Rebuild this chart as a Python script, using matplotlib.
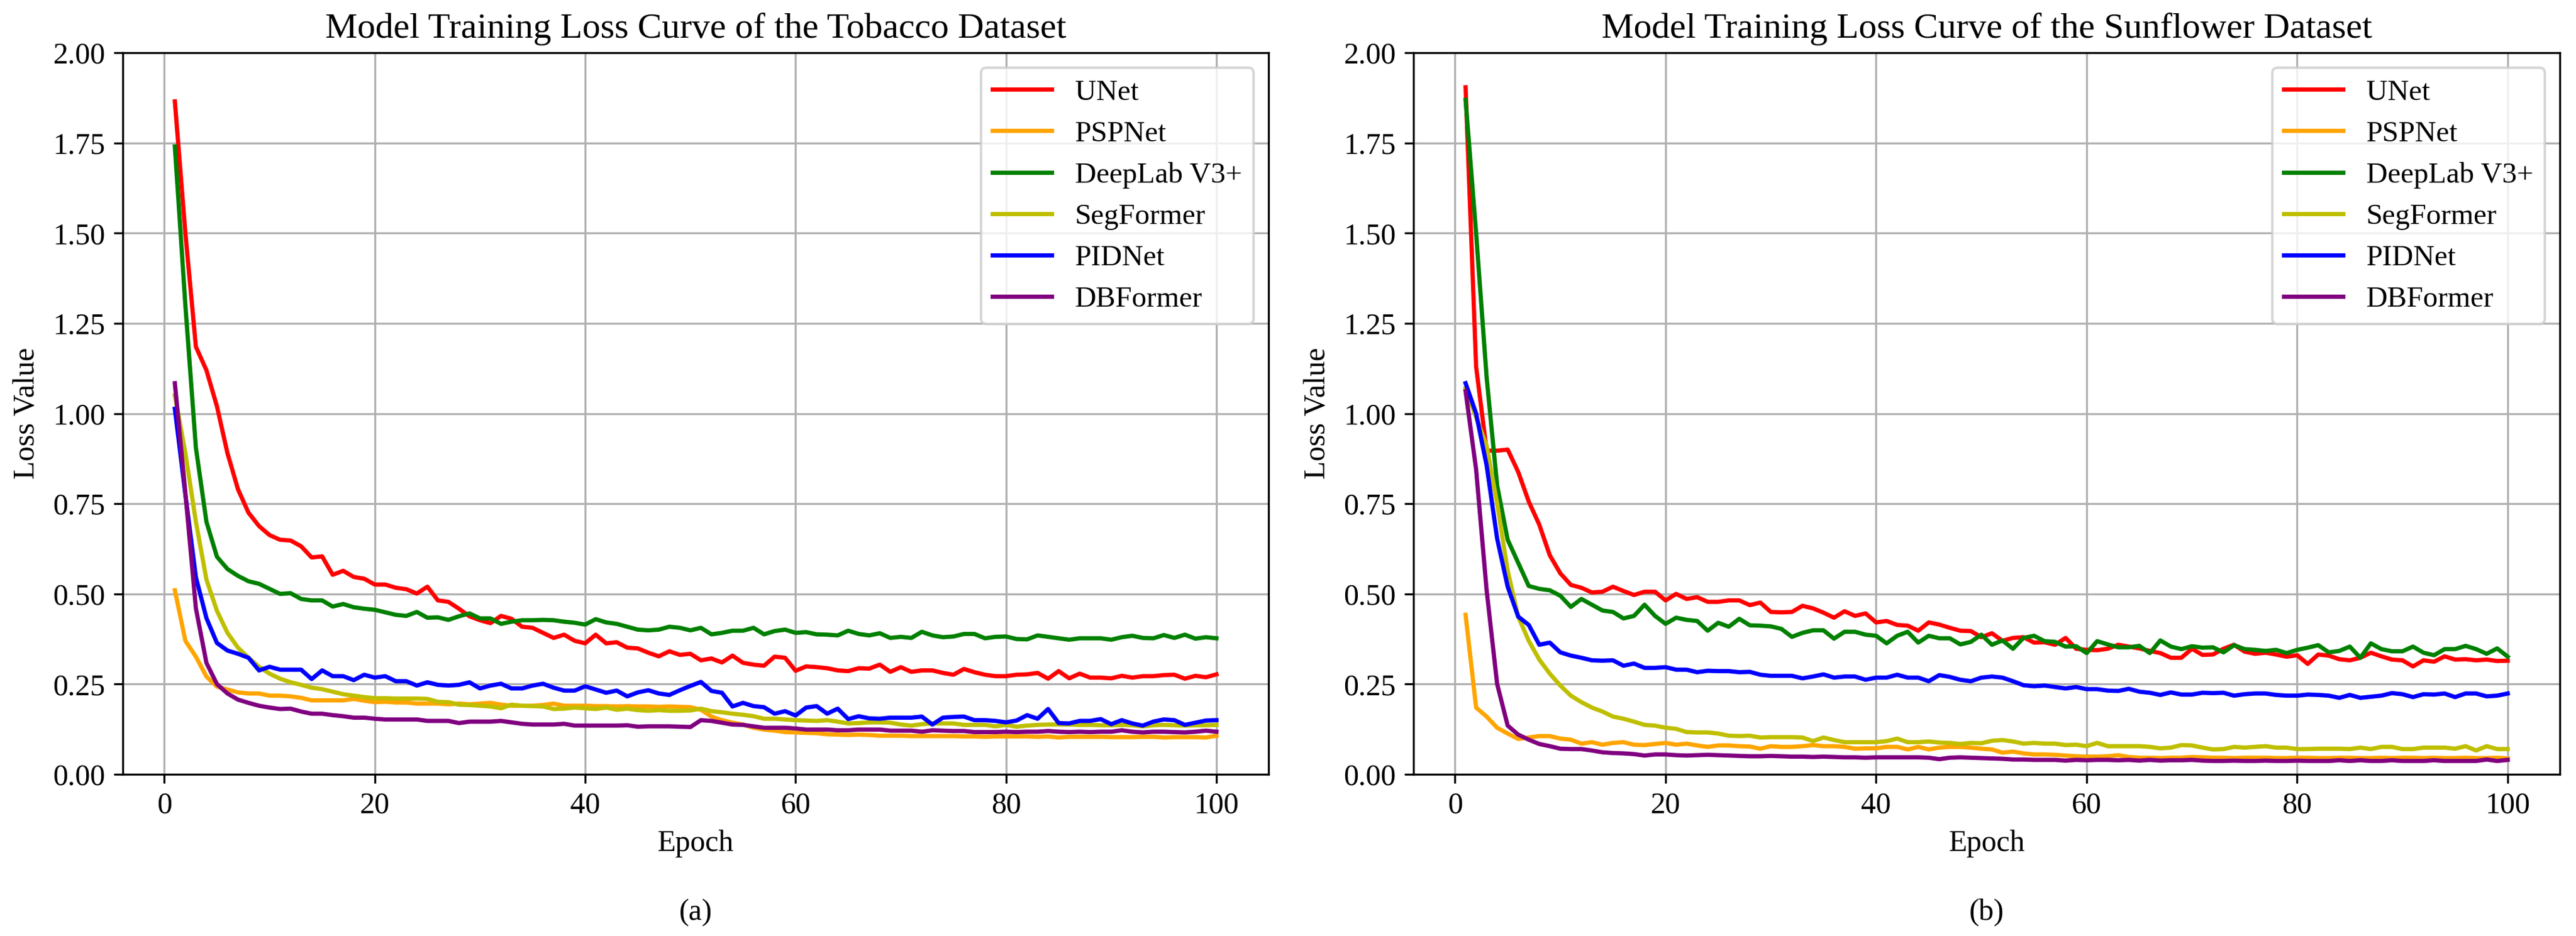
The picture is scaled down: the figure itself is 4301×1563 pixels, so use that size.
import matplotlib
matplotlib.use("Agg")
import matplotlib.pyplot as plt
import numpy as np

plt.rcParams['font.family'] = ['Liberation Serif', 'DejaVu Serif']

epochs = list(range(1, 101))
models = ["UNet", "PSPNet", "DeepLab V3+", "SegFormer", "PIDNet", "DBFormer"]
colors = ["red", "orange", "green", "y", "blue", "purple"]

# ---------------- Tobacco dataset ----------------
tob_unet = [1.865, 1.50, 1.185, 1.12, 1.02, 0.89, 0.79, 0.725, 0.688, 0.663,
            0.650, 0.648, 0.632, 0.601, 0.604, 0.553, 0.564, 0.547, 0.542, 0.526,
            0.526, 0.517, 0.513, 0.501, 0.520, 0.482, 0.478, 0.459, 0.438, 0.427,
            0.419, 0.439, 0.431, 0.409, 0.406, 0.392, 0.378, 0.387, 0.370, 0.363,
            0.387, 0.363, 0.366, 0.351, 0.349, 0.337, 0.327, 0.341, 0.331, 0.334,
            0.316, 0.321, 0.310, 0.329, 0.309, 0.304, 0.301, 0.326, 0.323, 0.287,
            0.299, 0.297, 0.294, 0.288, 0.286, 0.294, 0.293, 0.304, 0.284, 0.297,
            0.284, 0.288, 0.288, 0.281, 0.276, 0.292, 0.283, 0.276, 0.272, 0.272,
            0.276, 0.277, 0.281, 0.265, 0.286, 0.266, 0.279, 0.268, 0.268, 0.266,
            0.273, 0.268, 0.272, 0.272, 0.275, 0.276, 0.265, 0.273, 0.269, 0.277]
tob_pspnet = [0.510, 0.370, 0.326, 0.271, 0.243, 0.235, 0.227, 0.224, 0.224, 0.218,
              0.218, 0.216, 0.212, 0.205, 0.205, 0.205, 0.205, 0.209, 0.204, 0.200,
              0.201, 0.199, 0.199, 0.196, 0.196, 0.196, 0.194, 0.196, 0.194, 0.196,
              0.198, 0.193, 0.190, 0.190, 0.190, 0.192, 0.196, 0.190, 0.190, 0.190,
              0.189, 0.189, 0.188, 0.189, 0.188, 0.188, 0.187, 0.188, 0.187, 0.186,
              0.179, 0.160, 0.150, 0.143, 0.138, 0.129, 0.124, 0.121, 0.117, 0.116,
              0.115, 0.114, 0.111, 0.110, 0.109, 0.110, 0.109, 0.107, 0.107, 0.107,
              0.106, 0.106, 0.106, 0.106, 0.106, 0.105, 0.105, 0.104, 0.105, 0.105,
              0.105, 0.105, 0.104, 0.105, 0.102, 0.104, 0.104, 0.104, 0.104, 0.103,
              0.103, 0.103, 0.104, 0.104, 0.102, 0.103, 0.103, 0.103, 0.102, 0.107]
tob_deeplab = [1.740, 1.30, 0.905, 0.70, 0.603, 0.569, 0.550, 0.535, 0.528, 0.514,
               0.500, 0.502, 0.486, 0.482, 0.482, 0.465, 0.472, 0.463, 0.459, 0.456,
               0.449, 0.442, 0.439, 0.450, 0.434, 0.435, 0.428, 0.438, 0.446, 0.432,
               0.432, 0.417, 0.423, 0.427, 0.427, 0.428, 0.427, 0.423, 0.420, 0.415,
               0.430, 0.421, 0.417, 0.409, 0.401, 0.399, 0.401, 0.409, 0.406, 0.399,
               0.406, 0.388, 0.392, 0.398, 0.398, 0.406, 0.388, 0.397, 0.401, 0.392,
               0.394, 0.388, 0.387, 0.385, 0.398, 0.389, 0.385, 0.391, 0.378, 0.381,
               0.378, 0.395, 0.385, 0.380, 0.382, 0.389, 0.389, 0.377, 0.381, 0.382,
               0.375, 0.374, 0.385, 0.381, 0.377, 0.373, 0.377, 0.377, 0.377, 0.373,
               0.380, 0.384, 0.378, 0.377, 0.386, 0.378, 0.387, 0.376, 0.380, 0.377]
tob_segformer = [1.050, 0.89, 0.70, 0.54, 0.453, 0.392, 0.351, 0.323, 0.298, 0.279,
                 0.265, 0.255, 0.248, 0.240, 0.236, 0.229, 0.222, 0.218, 0.214, 0.211,
                 0.211, 0.210, 0.210, 0.210, 0.209, 0.201, 0.200, 0.193, 0.192, 0.190,
                 0.188, 0.183, 0.193, 0.190, 0.189, 0.188, 0.181, 0.182, 0.185, 0.183,
                 0.181, 0.185, 0.179, 0.182, 0.178, 0.176, 0.178, 0.176, 0.176, 0.177,
                 0.182, 0.175, 0.172, 0.168, 0.165, 0.161, 0.154, 0.154, 0.152, 0.150,
                 0.149, 0.148, 0.150, 0.146, 0.141, 0.142, 0.144, 0.144, 0.143, 0.138,
                 0.135, 0.139, 0.141, 0.141, 0.141, 0.137, 0.137, 0.137, 0.133, 0.137,
                 0.132, 0.135, 0.137, 0.138, 0.138, 0.138, 0.137, 0.137, 0.136, 0.136,
                 0.137, 0.136, 0.133, 0.136, 0.137, 0.136, 0.135, 0.136, 0.136, 0.137]
tob_pidnet = [1.013, 0.775, 0.546, 0.433, 0.364, 0.343, 0.334, 0.323, 0.288, 0.298,
              0.290, 0.290, 0.290, 0.264, 0.288, 0.272, 0.272, 0.261, 0.276, 0.268,
              0.272, 0.258, 0.258, 0.246, 0.255, 0.248, 0.246, 0.248, 0.255, 0.238,
              0.246, 0.251, 0.238, 0.238, 0.246, 0.251, 0.240, 0.232, 0.232, 0.244,
              0.235, 0.226, 0.232, 0.216, 0.227, 0.233, 0.224, 0.220, 0.233, 0.245,
              0.256, 0.231, 0.226, 0.188, 0.198, 0.189, 0.186, 0.168, 0.175, 0.163,
              0.185, 0.189, 0.168, 0.182, 0.153, 0.161, 0.155, 0.154, 0.157, 0.157,
              0.157, 0.160, 0.138, 0.157, 0.159, 0.160, 0.150, 0.150, 0.148, 0.144,
              0.149, 0.164, 0.154, 0.181, 0.142, 0.141, 0.148, 0.148, 0.153, 0.139,
              0.150, 0.141, 0.135, 0.146, 0.152, 0.150, 0.137, 0.143, 0.149, 0.150]
tob_dbformer = [1.084, 0.78, 0.46, 0.309, 0.250, 0.224, 0.207, 0.198, 0.190, 0.185,
                0.181, 0.182, 0.174, 0.168, 0.168, 0.164, 0.161, 0.157, 0.157, 0.154,
                0.152, 0.152, 0.152, 0.152, 0.148, 0.148, 0.148, 0.142, 0.146, 0.146,
                0.146, 0.148, 0.144, 0.140, 0.138, 0.138, 0.138, 0.140, 0.135, 0.135,
                0.135, 0.135, 0.135, 0.136, 0.132, 0.133, 0.133, 0.133, 0.132, 0.131,
                0.150, 0.148, 0.143, 0.138, 0.137, 0.133, 0.129, 0.129, 0.129, 0.127,
                0.124, 0.124, 0.124, 0.122, 0.122, 0.124, 0.124, 0.124, 0.121, 0.121,
                0.121, 0.118, 0.122, 0.121, 0.120, 0.120, 0.117, 0.117, 0.117, 0.118,
                0.117, 0.118, 0.118, 0.120, 0.118, 0.117, 0.118, 0.117, 0.118, 0.118,
                0.122, 0.118, 0.116, 0.118, 0.118, 0.117, 0.116, 0.118, 0.121, 0.118]

# ---------------- Sunflower dataset ----------------
sun_unet = [1.904, 1.13, 0.897, 0.897, 0.900, 0.838, 0.756, 0.692, 0.607, 0.557,
            0.525, 0.517, 0.504, 0.506, 0.520, 0.508, 0.497, 0.506, 0.506, 0.482,
            0.500, 0.486, 0.491, 0.478, 0.478, 0.482, 0.482, 0.469, 0.476, 0.450,
            0.449, 0.450, 0.467, 0.460, 0.448, 0.434, 0.452, 0.439, 0.446, 0.421,
            0.425, 0.414, 0.412, 0.398, 0.421, 0.415, 0.406, 0.398, 0.397, 0.380,
            0.391, 0.370, 0.378, 0.380, 0.365, 0.366, 0.359, 0.378, 0.348, 0.345,
            0.344, 0.348, 0.359, 0.354, 0.349, 0.342, 0.336, 0.323, 0.323, 0.348,
            0.331, 0.332, 0.348, 0.359, 0.340, 0.334, 0.337, 0.332, 0.326, 0.330,
            0.306, 0.332, 0.329, 0.319, 0.316, 0.323, 0.337, 0.327, 0.318, 0.316,
            0.299, 0.316, 0.312, 0.327, 0.318, 0.319, 0.316, 0.318, 0.314, 0.315]
sun_pspnet = [0.442, 0.185, 0.160, 0.129, 0.113, 0.098, 0.102, 0.106, 0.106, 0.099,
              0.096, 0.085, 0.089, 0.082, 0.087, 0.089, 0.082, 0.081, 0.084, 0.087,
              0.082, 0.085, 0.080, 0.076, 0.080, 0.080, 0.078, 0.077, 0.071, 0.078,
              0.076, 0.076, 0.078, 0.081, 0.078, 0.078, 0.076, 0.071, 0.072, 0.072,
              0.076, 0.076, 0.069, 0.076, 0.069, 0.074, 0.076, 0.076, 0.074, 0.071,
              0.069, 0.060, 0.063, 0.058, 0.055, 0.055, 0.054, 0.052, 0.050, 0.049,
              0.049, 0.050, 0.053, 0.048, 0.046, 0.046, 0.045, 0.046, 0.046, 0.048,
              0.047, 0.046, 0.046, 0.045, 0.046, 0.046, 0.046, 0.045, 0.045, 0.046,
              0.046, 0.045, 0.045, 0.046, 0.046, 0.045, 0.045, 0.046, 0.045, 0.046,
              0.046, 0.045, 0.046, 0.045, 0.045, 0.046, 0.045, 0.045, 0.046, 0.044]
sun_deeplab = [1.869, 1.50, 1.10, 0.80, 0.650, 0.586, 0.522, 0.514, 0.510, 0.495,
               0.464, 0.486, 0.470, 0.454, 0.450, 0.432, 0.439, 0.470, 0.439, 0.417,
               0.434, 0.428, 0.425, 0.398, 0.420, 0.409, 0.431, 0.413, 0.412, 0.410,
               0.403, 0.381, 0.392, 0.399, 0.399, 0.376, 0.395, 0.395, 0.387, 0.384,
               0.363, 0.384, 0.395, 0.365, 0.384, 0.377, 0.377, 0.360, 0.367, 0.387,
               0.359, 0.371, 0.348, 0.378, 0.384, 0.369, 0.367, 0.354, 0.355, 0.336,
               0.369, 0.360, 0.352, 0.352, 0.356, 0.336, 0.371, 0.354, 0.347, 0.355,
               0.351, 0.352, 0.338, 0.358, 0.347, 0.345, 0.342, 0.345, 0.336, 0.345,
               0.351, 0.358, 0.338, 0.342, 0.354, 0.323, 0.363, 0.347, 0.341, 0.341,
               0.354, 0.337, 0.330, 0.347, 0.347, 0.356, 0.347, 0.334, 0.349, 0.326]
sun_segformer = [1.07, 0.99, 0.91, 0.75, 0.564, 0.437, 0.370, 0.318, 0.279, 0.246,
                 0.218, 0.200, 0.185, 0.174, 0.160, 0.154, 0.146, 0.137, 0.135, 0.129,
                 0.126, 0.117, 0.116, 0.116, 0.113, 0.107, 0.106, 0.107, 0.102, 0.103,
                 0.103, 0.103, 0.102, 0.092, 0.102, 0.095, 0.089, 0.089, 0.089, 0.089,
                 0.092, 0.099, 0.089, 0.089, 0.091, 0.088, 0.087, 0.084, 0.087, 0.086,
                 0.093, 0.095, 0.091, 0.085, 0.087, 0.085, 0.085, 0.081, 0.082, 0.078,
                 0.087, 0.078, 0.078, 0.078, 0.078, 0.076, 0.072, 0.074, 0.081, 0.080,
                 0.074, 0.069, 0.070, 0.076, 0.074, 0.076, 0.078, 0.074, 0.074, 0.070,
                 0.070, 0.071, 0.071, 0.071, 0.070, 0.074, 0.070, 0.076, 0.076, 0.070,
                 0.070, 0.074, 0.074, 0.074, 0.071, 0.078, 0.066, 0.078, 0.070, 0.070]
sun_pidnet = [1.084, 1.00, 0.856, 0.653, 0.520, 0.437, 0.414, 0.359, 0.365, 0.338,
              0.329, 0.323, 0.316, 0.315, 0.316, 0.301, 0.307, 0.295, 0.295, 0.297,
              0.290, 0.290, 0.283, 0.287, 0.286, 0.286, 0.283, 0.284, 0.276, 0.273,
              0.273, 0.273, 0.266, 0.271, 0.277, 0.268, 0.271, 0.271, 0.262, 0.268,
              0.268, 0.276, 0.268, 0.268, 0.258, 0.275, 0.270, 0.262, 0.258, 0.268,
              0.271, 0.268, 0.258, 0.247, 0.244, 0.246, 0.242, 0.238, 0.242, 0.236,
              0.236, 0.232, 0.231, 0.237, 0.229, 0.226, 0.220, 0.227, 0.221, 0.221,
              0.226, 0.225, 0.226, 0.218, 0.222, 0.224, 0.224, 0.220, 0.218, 0.218,
              0.221, 0.220, 0.218, 0.212, 0.220, 0.212, 0.215, 0.218, 0.225, 0.222,
              0.214, 0.222, 0.221, 0.224, 0.214, 0.224, 0.224, 0.216, 0.218, 0.224]
sun_dbformer = [1.062, 0.845, 0.51, 0.25, 0.135, 0.110, 0.096, 0.084, 0.078, 0.071,
                0.070, 0.070, 0.066, 0.061, 0.059, 0.058, 0.056, 0.052, 0.055, 0.055,
                0.053, 0.052, 0.053, 0.054, 0.053, 0.052, 0.051, 0.050, 0.050, 0.051,
                0.050, 0.049, 0.049, 0.048, 0.049, 0.048, 0.047, 0.047, 0.046, 0.047,
                0.047, 0.047, 0.047, 0.047, 0.046, 0.042, 0.046, 0.047, 0.046, 0.045,
                0.044, 0.043, 0.041, 0.041, 0.040, 0.040, 0.040, 0.038, 0.040, 0.039,
                0.040, 0.040, 0.039, 0.040, 0.038, 0.040, 0.038, 0.039, 0.039, 0.040,
                0.038, 0.037, 0.037, 0.038, 0.037, 0.037, 0.038, 0.037, 0.037, 0.038,
                0.037, 0.037, 0.037, 0.039, 0.037, 0.039, 0.037, 0.037, 0.039, 0.037,
                0.037, 0.037, 0.039, 0.037, 0.037, 0.037, 0.037, 0.041, 0.037, 0.040]

panels = [
    ("Model Training Loss Curve of the Tobacco Dataset", "(a)",
     [tob_unet, tob_pspnet, tob_deeplab, tob_segformer, tob_pidnet, tob_dbformer]),
    ("Model Training Loss Curve of the Sunflower Dataset", "(b)",
     [sun_unet, sun_pspnet, sun_deeplab, sun_segformer, sun_pidnet, sun_dbformer]),
]

W, H = 4301, 1563
dpi = 300
fig = plt.figure(figsize=(W / dpi, H / dpi), dpi=dpi)

ax_rects = [
    [205 / W, 1 - 1293 / H, (2118 - 205) / W, (1293 - 88) / H],
    [2360 / W, 1 - 1293 / H, (4274 - 2360) / W, (1293 - 88) / H],
]

for rect, (title, tag, series) in zip(ax_rects, panels):
    ax = fig.add_axes(rect)
    for name, col, vals in zip(models, colors, series):
        ax.plot(epochs, vals, color=col, lw=1.7, label=name)
    ax.set_ylim(0, 2.0)
    ax.set_yticks(np.arange(0, 2.01, 0.25))
    ax.set_xticks([0, 20, 40, 60, 80, 100])
    ax.grid(True, color="#b0b0b0", lw=0.8)
    ax.set_axisbelow(True)
    ax.tick_params(labelsize=12)
    ax.set_title(title, fontsize=14.5, pad=6)
    ax.set_xlabel("Epoch", fontsize=12, labelpad=4)
    ax.set_ylabel("Loss Value", fontsize=12, labelpad=5)
    ax.legend(loc="upper right", fontsize=11.8, handlelength=2.0,
              labelspacing=0.5, borderaxespad=0.5)
    cx = rect[0] + rect[2] / 2
    fig.text(cx, 1 - 1524 / H, tag, ha="center", va="center", fontsize=12)

fig.savefig("out.png", dpi=dpi)
